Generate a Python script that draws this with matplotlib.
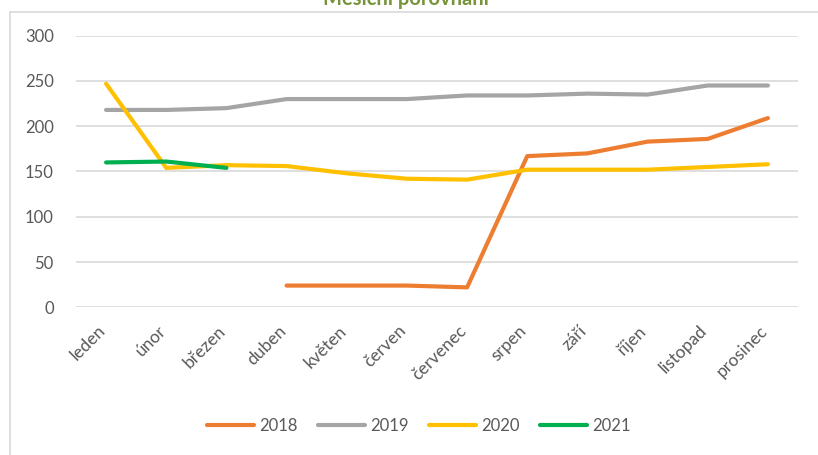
import matplotlib
matplotlib.use("Agg")
import matplotlib.pyplot as plt
import matplotlib.transforms as mtransforms
import numpy as np
from matplotlib.lines import Line2D

plt.rcParams['font.family'] = ['Lato', 'DejaVu Sans']

months = ["leden", "únor", "březen", "duben", "květen", "červen", "červenec",
          "srpen", "září", "říjen", "listopad", "prosinec"]
s2018 = [np.nan, np.nan, np.nan, 24, 24, 24, 22, 167, 170, 183, 186, 209]
s2019 = [218, 218, 220, 230, 230, 230, 234, 234, 236, 235, 245, 245]
s2020 = [247, 154, 157, 156, 148, 142, 141, 152, 152, 152, 155, 158]
s2021 = [160, 161, 154, np.nan, np.nan, np.nan, np.nan, np.nan, np.nan, np.nan, np.nan, np.nan]
series_names = ["2018", "2019", "2020", "2021"]
colors = ["#ED7D31", "#A5A5A5", "#FFC000", "#00B050"]
yticks = [0, 50, 100, 150, 200, 250, 300]
title = "Měsíční porovnání"

W, H = 818, 455
fig = plt.figure(figsize=(W / 100, H / 100), dpi=100)

# chart frame (top and left borders visible)
fig.add_artist(Line2D([10 / W, 10 / W], [0, 1 - 12 / H], color="#D9D9D9", lw=1.2,
                      transform=fig.transFigure))
fig.add_artist(Line2D([10 / W, 1], [1 - 12 / H, 1 - 12 / H], color="#D9D9D9", lw=1.2,
                      transform=fig.transFigure))

fig.text(406 / W, 1 - 5 / H, title, color="#77933C", fontsize=14.5, fontweight="bold",
         ha="center", va="baseline")

ax = fig.add_axes([76 / W, (H - 307.3) / H, (798 - 76) / W, (307.3 - 35.7) / H])
x = np.arange(len(months))
for vals, c, n in zip([s2018, s2019, s2020, s2021], colors, series_names):
    ax.plot(x, vals, color=c, lw=3, label=n, solid_capstyle="round", solid_joinstyle="round")

ax.set_xlim(-0.5, 11.5)
ax.set_ylim(0, 300)
ax.set_yticks(yticks)
ax.set_yticklabels([str(v) for v in yticks])
ax.yaxis.grid(True, color="#D9D9D9", lw=1.2)
ax.set_axisbelow(True)
for sp in ax.spines.values():
    sp.set_visible(False)
ax.tick_params(axis="y", length=0, pad=16, labelsize=12, labelcolor="#595959")
ax.tick_params(axis="x", length=0, pad=15, labelsize=12.5, labelcolor="#595959")
ax.set_xticks(x)
ax.set_xticklabels(months, rotation=45, ha="right", va="center", rotation_mode="anchor")
shift = mtransforms.ScaledTranslation(-3 / 100, 0, fig.dpi_scale_trans)
for lab in ax.get_xticklabels():
    lab.set_transform(lab.get_transform() + shift)

handles, labels = ax.get_legend_handles_labels()
fig.legend(handles, labels, loc="center", bbox_to_anchor=(419 / W, 1 - 426 / H), ncol=4,
           frameon=False, fontsize=12, labelcolor="#595959", handlelength=2.8,
           handletextpad=0.35, columnspacing=1.2)

fig.savefig("out.png", dpi=100, facecolor="white")
